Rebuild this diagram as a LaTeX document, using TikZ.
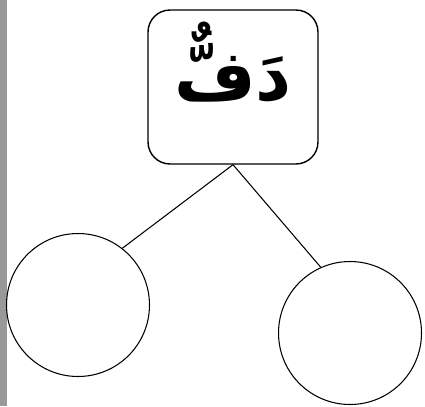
\documentclass[tikz,border=0pt]{standalone}
\usepackage{fontspec}
\usepackage{tikz}
\usetikzlibrary{positioning}
\TeXXeTstate=1
\newfontfamily\arabicfont[Script=Arabic]{DejaVu Sans}
\definecolor{edge}{HTML}{999999}

\begin{document}
\begin{tikzpicture}[x=0.02cm,y=-0.02cm,
  wordbox/.style={draw,line width=0.8pt,rounded corners=0.44cm,minimum width=3.4cm,minimum height=3.08cm},
  slot/.style={draw,circle,line width=0.6pt,minimum size=2.86cm,inner sep=0pt}]
\useasboundingbox (0,0) rectangle (425,406);
\fill[edge] (0,0) rectangle (7,406);
\node[wordbox] (daf) at (233,87) {};
\node[font=\arabicfont\bfseries\fontsize{40}{46}\selectfont] (word) at (233,62) {\beginR دَفٌّ\endR};
\node[slot] (left) at (78,305) {};
\node[slot] (right) at (350,333) {};
\draw[line width=0.6pt] (daf.south) -- (left.52);
\draw[line width=0.6pt] (daf.south) -- (right.114);
\end{tikzpicture}
\end{document}
